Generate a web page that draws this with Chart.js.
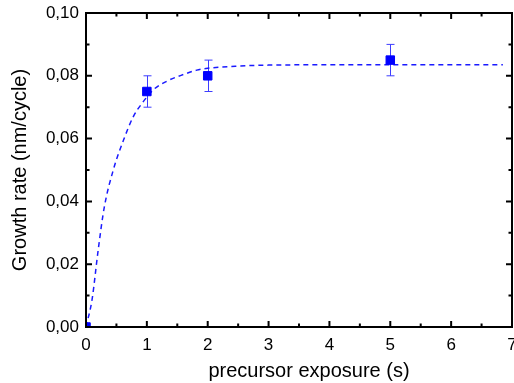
<!DOCTYPE html>
<html><head><meta charset="utf-8">
<script src="https://cdn.jsdelivr.net/npm/chart.js@4"></script>
<style>html,body{margin:0;padding:0;background:#fff}#w{width:514px;height:383px;position:relative}</style>
</head><body><div id="w"><canvas id="c"></canvas></div>
<script>
const exposure = [0, 1, 2, 5];
const growthRate = [0, 0.075, 0.080, 0.085];
const growthErr = [0, 0.005, 0.005, 0.005];
const fitX = [0, 0.1, 0.2, 0.3, 0.45, 0.62, 0.78, 0.92, 1.11, 1.33, 1.6, 1.82, 2.0, 2.5, 3.0, 4.0, 5.0, 6.0, 6.85];
const fitY = [0, 0.0088, 0.0245, 0.0381, 0.0501, 0.0597, 0.0671, 0.0712, 0.0756, 0.0783, 0.0804, 0.0818, 0.0824, 0.0831, 0.0834, 0.0835, 0.0835, 0.0835, 0.0835];
const xTicks = [0, 1, 2, 3, 4, 5, 6, 7];
const yTicks = [0, 0.02, 0.04, 0.06, 0.08, 0.10];
const xTitle = 'precursor exposure (s)';
const yTitle = 'Growth rate (nm/cycle)';

const FONT = "'Liberation Sans', Arial, sans-serif";

const framePlugin = {
  id: 'frame',
  beforeDatasetsDraw(chart) {
    const {ctx, scales: {x, y}} = chart;
    ctx.save();
    ctx.strokeStyle = '#3d3dff';
    ctx.lineWidth = 1;
    exposure.forEach((v, i) => {
      const e = growthErr[i];
      if (!e) return;
      const px = Math.round(x.getPixelForValue(v)) + 0.5;
      const y1 = y.getPixelForValue(growthRate[i] - e);
      const y2 = y.getPixelForValue(growthRate[i] + e);
      ctx.beginPath();
      ctx.moveTo(px, y1); ctx.lineTo(px, y2);
      ctx.moveTo(px - 4, y1); ctx.lineTo(px + 4, y1);
      ctx.moveTo(px - 4, y2); ctx.lineTo(px + 4, y2);
      ctx.stroke();
    });
    ctx.restore();
  },
  afterDraw(chart) {
    const {ctx, chartArea: a, scales: {x, y}} = chart;
    ctx.save();
    ctx.strokeStyle = '#000';
    ctx.lineWidth = 2;
    ctx.beginPath();
    for (let v = 0; v <= 7.0001; v += 0.5) {
      const px = x.getPixelForValue(v);
      const len = Math.abs(v - Math.round(v)) < 1e-6 ? 6 : 3.5;
      ctx.moveTo(px, a.bottom); ctx.lineTo(px, a.bottom - len);
      ctx.moveTo(px, a.top); ctx.lineTo(px, a.top + len);
    }
    for (let k = 0; k <= 10; k++) {
      const py = y.getPixelForValue(k * 0.01);
      const len = k % 2 === 0 ? 6 : 3.5;
      ctx.moveTo(a.left, py); ctx.lineTo(a.left + len, py);
      ctx.moveTo(a.right, py); ctx.lineTo(a.right - len, py);
    }
    ctx.stroke();
    ctx.strokeRect(a.left, a.top, a.right - a.left, a.bottom - a.top);
    ctx.fillStyle = '#000';
    ctx.font = '20px ' + FONT;
    ctx.textAlign = 'center';
    ctx.textBaseline = 'alphabetic';
    ctx.fillText(xTitle, (a.left + a.right) / 2 + 10, 377);
    ctx.restore();
  }
};

new Chart(document.getElementById('c'), {
  type: 'scatter',
  data: {
    datasets: [
      {
        type: 'line',
        data: fitX.map((v, i) => ({x: v, y: fitY[i]})),
        borderColor: '#1a1aff',
        borderWidth: 1.5,
        borderDash: [5, 4],
        pointRadius: 0,
        fill: false,
        cubicInterpolationMode: 'monotone',
        order: 2
      },
      {
        data: exposure.map((v, i) => ({x: v, y: growthRate[i]})),
        backgroundColor: '#0000ff',
        borderColor: '#0000ff',
        borderWidth: 1,
        pointStyle: 'rect',
        pointRadius: 6,
        pointHoverRadius: 6,
        order: 1
      }
    ]
  },
  options: {
    responsive: true,
    maintainAspectRatio: false,
    animation: false,
    events: [],
    layout: {autoPadding: false, padding: {top: 13, right: 2, left: 0, bottom: 0}},
    plugins: {legend: {display: false}, tooltip: {enabled: false}},
    scales: {
      x: {
        type: 'linear', min: 0, max: 7,
        afterBuildTicks: s => { s.ticks = xTicks.map(v => ({value: v})); },
        ticks: {color: '#000', font: {family: FONT, size: 17}, padding: 8, maxRotation: 0,
                callback: v => String(v)},
        grid: {display: false, drawTicks: false},
        border: {display: false},
        afterFit: s => { s.height = 56; s.paddingLeft = 0; s.paddingRight = 0; }
      },
      y: {
        type: 'linear', min: 0, max: 0.10,
        afterBuildTicks: s => { s.ticks = yTicks.map(v => ({value: v})); },
        ticks: {color: '#000', font: {family: FONT, size: 17}, padding: 7,
                callback: v => v.toFixed(2).replace('.', ',')},
        grid: {display: false, drawTicks: false},
        border: {display: false},
        title: {display: true, text: yTitle, color: '#000', font: {family: FONT, size: 20}, padding: {top: 8, bottom: 0}},
        afterFit: s => { s.width = 86; s.paddingTop = 0; s.paddingBottom = 0; }
      }
    }
  },
  plugins: [framePlugin]
});
</script>
</body></html>
